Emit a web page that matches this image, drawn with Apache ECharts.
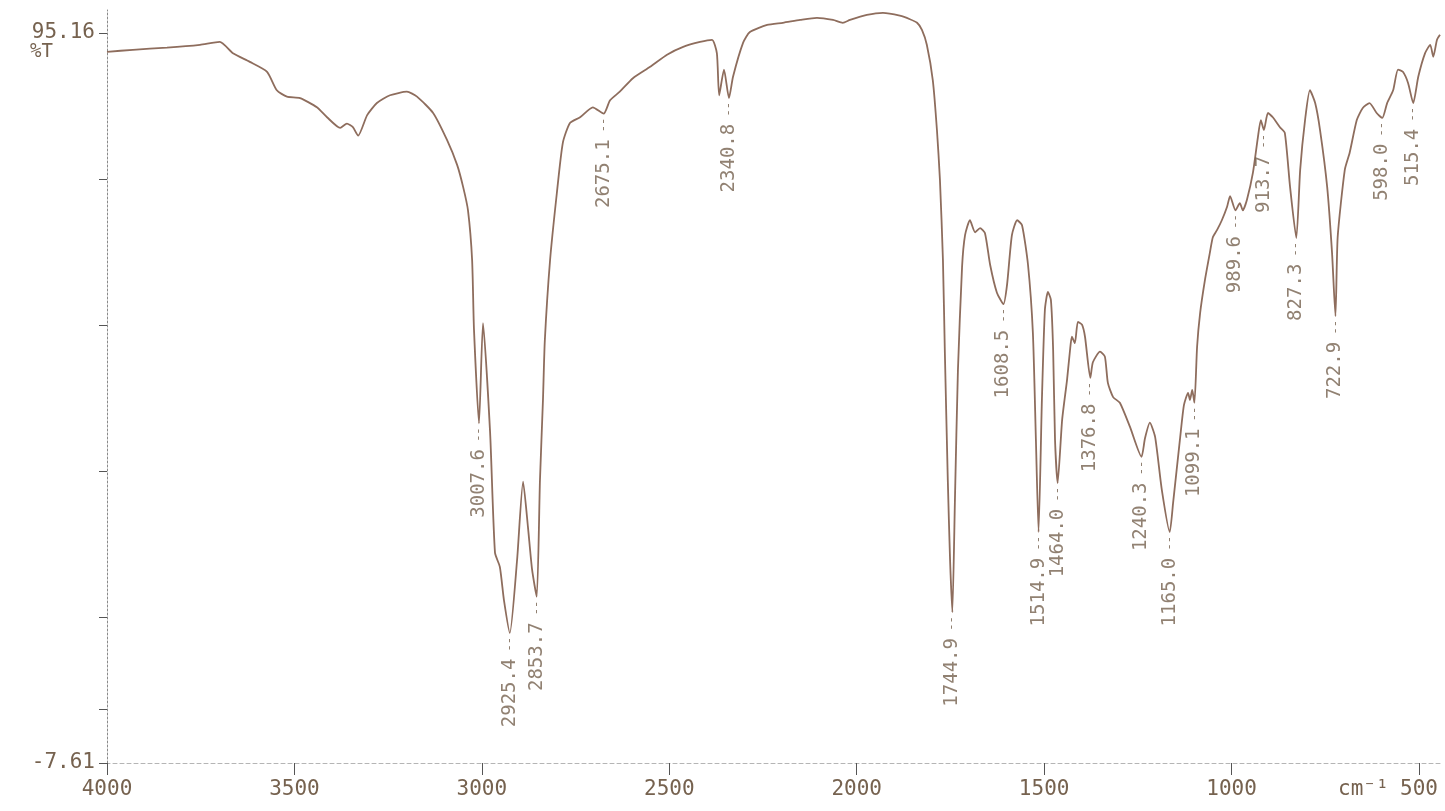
<!DOCTYPE html>
<html>
<head>
<meta charset="utf-8">
<title>IR spectrum %T</title>
<script src="https://cdn.jsdelivr.net/npm/echarts@6/dist/echarts.min.js"></script>
<style>
    html, body { margin: 0; padding: 0; background: #fff; }
    #main { width: 1445px; height: 811px; }
</style>
</head>
<body>
<div id="main"></div>
<script>
// traced spectrum: wavenumber (cm-1) and transmittance (%T)
var wavenumbers = [
    4000, 3931, 3840, 3752, 3699, 3664, 3619, 3573, 3547, 3520, 3485, 3440, 3413, 3378, 3360, 3344, 3330,
    3306, 3280, 3245, 3200, 3173, 3130, 3093, 3066, 3050, 3037, 3026, 3021, 3007.6, 2997, 2978, 2965, 2952,
    2941, 2925.4, 2906, 2890, 2877, 2866, 2853.7, 2845, 2837, 2832, 2818, 2800, 2784, 2765, 2738, 2704,
    2675.1, 2658, 2632, 2597, 2551, 2506, 2463, 2418, 2386, 2373, 2367, 2354, 2340.8, 2330, 2303, 2285,
    2239, 2197, 2151, 2106, 2063, 2037, 2018, 1973, 1930, 1885, 1858, 1839, 1826, 1813, 1797, 1786, 1778,
    1770, 1765, 1757, 1751, 1744.9, 1738, 1730, 1719, 1711, 1698, 1684, 1671, 1658, 1644, 1626, 1608.5,
    1599, 1586, 1572, 1559, 1543, 1530, 1522, 1514.9, 1506, 1498, 1490, 1482, 1476, 1471, 1464.0, 1452,
    1439, 1431, 1426, 1418, 1410, 1399, 1391, 1376.8, 1370, 1351, 1338, 1330, 1316, 1298, 1271, 1240.3,
    1231, 1218, 1204, 1186, 1165.0, 1156, 1137, 1127, 1116, 1111, 1105, 1099.1, 1092, 1084, 1071, 1058,
    1050, 1039, 1026, 1012, 1004, 989.6, 978, 970, 959, 943, 930, 922, 913.7, 903, 890, 871, 858, 844,
    827.3, 817, 804, 791, 777, 764, 745, 732, 722.9, 717, 698, 685, 666, 650, 632, 613, 598.0, 585, 569,
    556, 543, 529, 515.4, 502, 484, 470, 462, 452, 444
];
var transmittance = [
    92.5, 92.8, 93.1, 93.5, 93.9, 92.3, 91.1, 89.7, 87.1, 86.2, 86.0, 84.7, 83.3, 81.8, 82.4, 81.9, 80.7,
    83.6, 85.3, 86.4, 86.9, 86.2, 83.9, 80.1, 76.6, 73.5, 70.2, 63.2, 53.4, 40.2, 54.3, 38.9, 22.0, 20.0,
    15.3, 10.7, 21.0, 32.0, 25.6, 19.6, 15.8, 32.2, 43.5, 51.9, 63.2, 72.6, 79.7, 82.5, 83.3, 84.7,
    83.8, 85.7, 86.9, 88.8, 90.4, 92.1, 93.2, 93.9, 94.2, 92.3, 86.4, 90.0, 86.0, 89.0, 93.8, 95.3,
    96.3, 96.6, 97.0, 97.3, 97.0, 96.6, 97.0, 97.7, 98.0, 97.6, 97.1, 96.6, 95.6, 93.5, 88.5, 81.5, 74.5,
    63.2, 50.5, 32.2, 21.0, 13.6, 29.4, 47.7, 62.2, 66.7, 68.8, 67.1, 67.7, 67.0, 62.5, 58.6, 57.0,
    59.7, 66.7, 68.8, 68.1, 62.5, 52.9, 37.9, 24.9, 43.5, 56.2, 58.7, 57.6, 50.5, 37.9, 31.8, 40.7,
    46.3, 50.5, 52.4, 51.5, 54.5, 54.1, 52.4, 46.6, 48.8, 50.3, 49.6, 45.9, 43.9, 43.1, 39.7, 35.5,
    38.1, 40.3, 38.3, 30.8, 24.9, 29.0, 38.3, 42.8, 44.5, 43.5, 44.9, 43.1, 51.0, 55.7, 60.4, 64.2,
    66.4, 67.4, 68.8, 70.7, 72.2, 70.2, 71.2, 70.2, 71.7, 75.5, 80.4, 82.9, 81.5, 83.9, 83.3, 81.9, 81.1, 73.5,
    66.3, 75.9, 82.9, 87.1, 85.3, 81.5, 73.5, 64.2, 55.3, 66.4, 75.9, 78.3, 82.9, 84.6, 85.3, 83.9, 83.2, 85.3, 87.1,
    90.0, 89.7, 88.1, 85.3, 89.0, 92.3, 93.5, 91.8, 94.2, 94.9
];

// labelled peaks
var peakPositions = [3007.6, 2925.4, 2853.7, 2675.1, 2340.8, 1744.9, 1608.5, 1514.9, 1464.0, 1376.8,
    1240.3, 1165.0, 1099.1, 989.6, 913.7, 827.3, 722.9, 598.0, 515.4];
var peakValues = [40.2, 10.7, 15.8, 83.8, 86.0, 13.6, 57.0, 24.9, 31.8, 46.6,
    35.5, 24.9, 43.1, 70.2, 81.5, 66.3, 55.3, 83.2, 85.3];

var xTickValues = [4000, 3500, 3000, 2500, 2000, 1500, 1000, 500];
var yLabelValues = [-7.61, 95.16];
var yTickValues = [-7.61, 0, 12.944, 33.498, 54.052, 74.606, 95.16];

var inkColor = '#8e6d5d';
var textColor = '#76624f';
var monoFont = '"DejaVu Sans Mono", "Liberation Mono", monospace';

var chart = echarts.init(document.getElementById('main'));

var spectrum = wavenumbers.map(function(w, i) {
    return [w, transmittance[i]];
});
var peaks = peakPositions.map(function(w, i) {
    return [w, peakValues[i]];
});

var option = {
    animation: false,
    backgroundColor: '#ffffff',
    grid: {
        left: 107,
        right: 5,
        top: 10,
        bottom: 48,
        outerBoundsMode: 'none'
    },
    xAxis: {
        type: 'value',
        inverse: true,
        min: 444,
        max: 4000,
        splitLine: { show: false },
        axisLine: {
            onZero: false,
            lineStyle: { color: '#b5b5b5', width: 1, type: [4, 3] }
        },
        axisTick: {
            customValues: xTickValues,
            length: 12,
            lineStyle: { color: '#555', width: 1 }
        },
        axisLabel: {
            customValues: xTickValues,
            margin: 16,
            color: textColor,
            fontFamily: monoFont,
            fontSize: 21,
            formatter: function(v) {
                return String(v);
            }
        }
    },
    yAxis: {
        type: 'value',
        min: -7.61,
        max: 98.4,
        splitLine: { show: false },
        axisLine: {
            onZero: false,
            lineStyle: { color: '#8a8a8a', width: 1, type: [2, 2] }
        },
        axisTick: {
            customValues: yTickValues,
            length: 8,
            lineStyle: { color: '#555', width: 1 }
        },
        axisLabel: {
            customValues: yLabelValues,
            margin: 12,
            color: textColor,
            fontFamily: monoFont,
            fontSize: 21,
            formatter: function(v) {
                return v.toFixed(2);
            }
        }
    },
    graphic: [
        {
            type: 'text',
            left: 30,
            top: 43,
            style: { text: '%T', fill: textColor, font: '19px ' + monoFont }
        },
        {
            type: 'text',
            left: 1338,
            top: 779,
            style: { text: 'cm\u207B\u00B9', fill: textColor, font: '21px ' + monoFont }
        }
    ],
    series: [
        {
            name: 'spectrum',
            type: 'line',
            data: spectrum,
            showSymbol: false,
            smooth: 0.2,
            lineStyle: { color: inkColor, width: 1.8 },
            z: 2
        },
        {
            name: 'peaks',
            type: 'scatter',
            data: peaks,
            symbolSize: 0,
            silent: true,
            z: 3,
            label: {
                show: true,
                position: 'bottom',
                distance: 4,
                rotate: 90,
                align: 'right',
                verticalAlign: 'middle',
                formatter: function(p) {
                    return '{v|' + p.value[0].toFixed(1) + '}{d| --}';
                },
                rich: {
                    v: { color: textColor, fontFamily: monoFont, fontSize: 19 },
                    d: { color: textColor, fontFamily: monoFont, fontSize: 12 }
                }
            }
        }
    ]
};

if (option && typeof option === 'object') {
    chart.setOption(option, true);
}
</script>
</body>
</html>
